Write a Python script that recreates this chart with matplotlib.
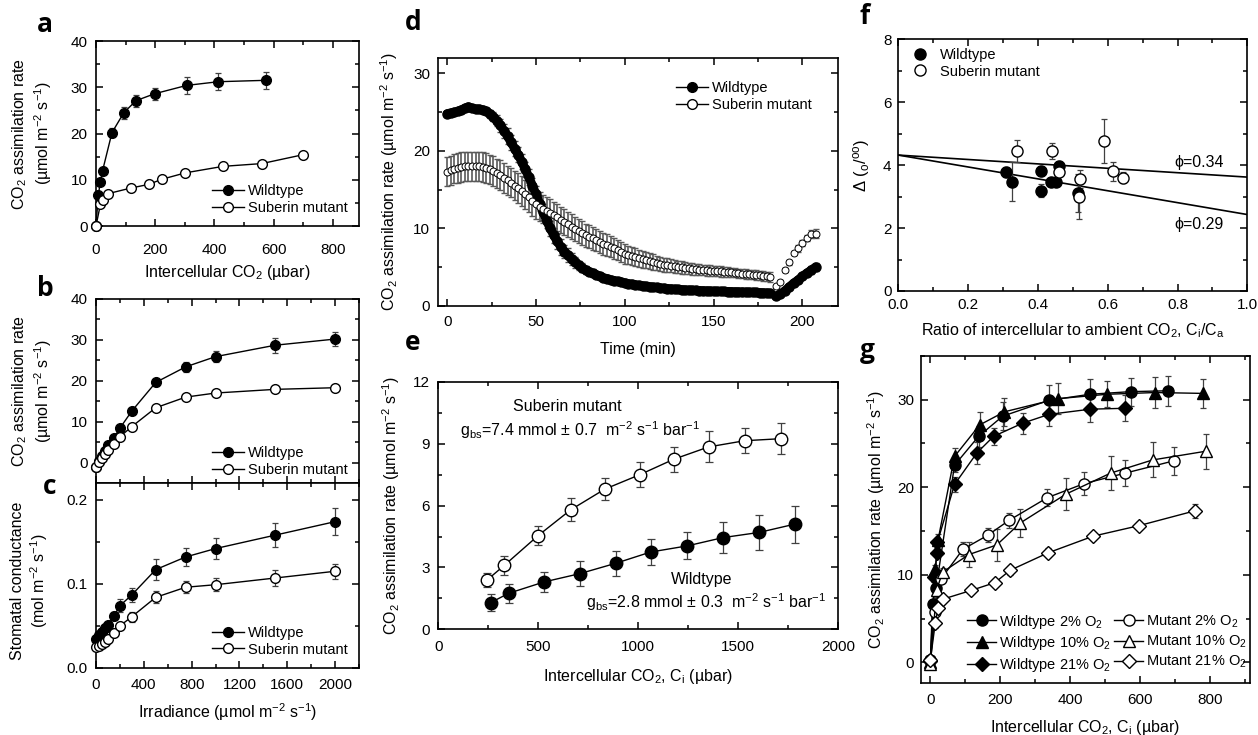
import matplotlib.pyplot as plt
import numpy as np
from matplotlib.ticker import MultipleLocator, FormatStrFormatter

plt.rcParams['font.family'] = ['Liberation Sans', 'DejaVu Sans']
plt.rcParams['mathtext.fontset'] = 'custom'
plt.rcParams['mathtext.rm'] = 'Liberation Sans'
plt.rcParams['mathtext.it'] = 'Liberation Sans:italic'
plt.rcParams['mathtext.bf'] = 'Liberation Sans:bold'
plt.rcParams['font.size'] = 10
plt.rcParams['axes.linewidth'] = 1.2

# ---- panel a: A/Ci ----
a_ci_wt = [0, 8, 15, 22, 54, 94, 135, 198, 306, 413, 573]
a_a_wt = [0, 6.8, 9.6, 11.9, 20.2, 24.5, 27.1, 28.6, 30.4, 31.2, 31.5]
a_err_wt = [0.2, 0.4, 0.5, 0.6, 1.0, 1.3, 1.3, 1.3, 1.9, 1.8, 1.9]
a_ci_mut = [0, 15, 22, 41, 117, 178, 222, 302, 429, 560, 698]
a_a_mut = [0, 4.7, 5.6, 7.0, 8.2, 9.0, 10.1, 11.5, 12.9, 13.5, 15.4]
a_err_mut = [0.3, 0.6, 0.6, 0.6, 0.5, 0.5, 0.5, 0.6, 0.5, 0.4, 0.3]

# ---- panels b, c: light response ----
irr = [0, 25, 50, 75, 100, 150, 200, 300, 500, 750, 1000, 1500, 2000]
b_wt = [-1.0, 0.3, 1.5, 2.8, 4.2, 6.1, 8.4, 12.6, 19.6, 23.4, 25.9, 28.7, 30.2]
b_wt_err = [0.3, 0.3, 0.3, 0.4, 0.4, 0.5, 0.6, 0.7, 0.8, 1.2, 1.4, 1.8, 1.8]
b_mut = [-1.0, 0.1, 1.1, 2.1, 3.1, 4.6, 6.3, 8.8, 13.4, 16.0, 17.0, 17.9, 18.3]
b_mut_err = [0.3, 0.3, 0.3, 0.3, 0.4, 0.4, 0.5, 0.5, 0.5, 0.5, 0.5, 0.6, 0.6]
c_wt = [0.035, 0.039, 0.043, 0.047, 0.051, 0.062, 0.074, 0.087, 0.117, 0.132, 0.142, 0.158, 0.174]
c_wt_err = [0.003, 0.003, 0.003, 0.004, 0.004, 0.005, 0.008, 0.008, 0.012, 0.011, 0.012, 0.014, 0.016]
c_mut = [0.025, 0.026, 0.028, 0.031, 0.034, 0.042, 0.050, 0.061, 0.084, 0.096, 0.099, 0.107, 0.115]
c_mut_err = [0.003, 0.003, 0.003, 0.003, 0.003, 0.004, 0.004, 0.006, 0.007, 0.007, 0.008, 0.009, 0.009]

# ---- panel d: time course (2 min sampling, then recovery) ----
d_t = np.arange(0, 184, 2)
d_wt = [24.8, 24.9, 25.0, 25.1, 25.3, 25.5, 25.7, 25.5, 25.4, 25.4,
        25.3, 25.1, 24.8, 24.4, 23.9, 23.3, 22.6, 21.9, 21.1, 20.3,
        19.5, 18.6, 17.6, 16.6, 15.5, 14.4, 13.2, 12.1, 11.0, 10.0,
        9.1, 8.3, 7.6, 7.0, 6.5, 6.0, 5.6, 5.2, 4.9, 4.6,
        4.4, 4.2, 4.0, 3.8, 3.6, 3.5, 3.35, 3.25, 3.15, 3.05,
        2.95, 2.85, 2.78, 2.7, 2.63, 2.57, 2.5, 2.45, 2.4, 2.35,
        2.3, 2.26, 2.22, 2.18, 2.14, 2.1, 2.07, 2.04, 2.02, 2.0,
        1.98, 1.96, 1.94, 1.92, 1.9, 1.88, 1.86, 1.85, 1.84, 1.83,
        1.82, 1.8, 1.79, 1.78, 1.76, 1.75, 1.73, 1.71, 1.69, 1.67,
        1.65, 1.6]
d_wt_err = [0.3, 0.3, 0.3, 0.3, 0.3, 0.3, 0.3, 0.3, 0.3, 0.3,
            0.3, 0.4, 0.5, 0.6, 0.7, 0.8, 0.9, 1.0, 1.0, 1.0,
            1.0, 1.0, 1.0, 1.0, 1.0, 1.0, 1.0, 1.0, 1.0, 1.0,
            1.0, 1.0, 1.0, 0.9, 0.9, 0.8, 0.7, 0.6, 0.6, 0.5,
            0.5, 0.5, 0.4, 0.4, 0.4, 0.4, 0.35, 0.35, 0.3, 0.3,
            0.3, 0.3, 0.3, 0.3, 0.3, 0.3, 0.3, 0.3, 0.3, 0.3,
            0.25, 0.25, 0.25, 0.25, 0.25, 0.25, 0.25, 0.25, 0.25, 0.25,
            0.25, 0.25, 0.25, 0.25, 0.25, 0.25, 0.25, 0.25, 0.25, 0.25,
            0.25, 0.25, 0.25, 0.25, 0.25, 0.25, 0.25, 0.25, 0.25, 0.25,
            0.25, 0.25]
d_mut = [17.3, 17.5, 17.7, 17.8, 17.9, 18.0, 18.0, 18.0, 18.0, 18.0,
         17.9, 17.8, 17.6, 17.4, 17.1, 16.9, 16.5, 16.2, 15.9, 15.5,
         15.2, 14.8, 14.4, 14.0, 13.5, 13.1, 12.8, 12.5, 12.2, 12.0,
         11.7, 11.4, 11.1, 10.8, 10.5, 10.2, 9.9, 9.6, 9.4, 9.1,
         8.9, 8.7, 8.5, 8.2, 8.0, 7.8, 7.6, 7.4, 7.2, 6.9,
         6.7, 6.55, 6.4, 6.25, 6.1, 6.0, 5.9, 5.75, 5.65, 5.5,
         5.4, 5.3, 5.22, 5.15, 5.07, 5.0, 4.94, 4.88, 4.82, 4.76,
         4.7, 4.66, 4.62, 4.58, 4.54, 4.5, 4.46, 4.42, 4.38, 4.34,
         4.3, 4.25, 4.2, 4.15, 4.1, 4.05, 4.0, 3.95, 3.9, 3.85,
         3.8, 3.7]
d_mut_err = [1.9, 1.9, 1.9, 1.9, 1.9, 1.9, 1.9, 1.9, 1.9, 1.9,
             1.9, 1.9, 1.9, 1.9, 1.9, 1.9, 1.9, 1.9, 1.9, 1.9,
             1.9, 1.9, 1.9, 1.9, 1.9, 1.9, 1.85, 1.8, 1.8, 1.75,
             1.75, 1.7, 1.7, 1.65, 1.65, 1.6, 1.6, 1.55, 1.55, 1.5,
             1.5, 1.5, 1.45, 1.45, 1.4, 1.4, 1.35, 1.35, 1.3, 1.3,
             1.25, 1.2, 1.2, 1.15, 1.1, 1.1, 1.05, 1.0, 1.0, 0.95,
             0.95, 0.9, 0.9, 0.85, 0.85, 0.8, 0.8, 0.8, 0.75, 0.75,
             0.75, 0.7, 0.7, 0.7, 0.7, 0.65, 0.65, 0.65, 0.65, 0.6,
             0.6, 0.6, 0.6, 0.6, 0.6, 0.6, 0.6, 0.6, 0.6, 0.6,
             0.6, 0.6]
d_t2 = [185, 187.5, 190, 192.5, 195, 197.5, 200, 202.5, 205, 207.5]
d_wt2 = [1.2, 1.5, 1.9, 2.4, 2.9, 3.3, 3.8, 4.2, 4.6, 5.0]
d_wt2_err = [0.2, 0.2, 0.2, 0.3, 0.3, 0.3, 0.4, 0.4, 0.5, 0.5]
d_mut2 = [2.5, 3.1, 4.6, 5.6, 6.8, 7.4, 8.1, 8.7, 9.3, 9.3]
d_mut2_err = [0.2, 0.2, 0.3, 0.3, 0.3, 0.4, 0.4, 0.4, 0.5, 0.6]

# ---- panel e: low O2 A/Ci ----
e_ci_mut = [245, 330, 500, 663, 833, 1008, 1178, 1353, 1533, 1717]
e_a_mut = [2.4, 3.1, 4.55, 5.8, 6.8, 7.5, 8.25, 8.85, 9.15, 9.25]
e_err_mut = [0.35, 0.45, 0.45, 0.55, 0.55, 0.6, 0.6, 0.75, 0.6, 0.75]
e_ci_wt = [263, 353, 530, 708, 887, 1063, 1247, 1425, 1605, 1783]
e_a_wt = [1.3, 1.75, 2.3, 2.7, 3.2, 3.75, 4.05, 4.45, 4.7, 5.1]
e_err_wt = [0.4, 0.45, 0.5, 0.6, 0.6, 0.65, 0.65, 0.75, 0.85, 0.9]

# ---- panel f: discrimination vs Ci/Ca ----
f_x_wt = [0.308, 0.327, 0.408, 0.408, 0.437, 0.451, 0.461, 0.514]
f_y_wt = [3.78, 3.47, 3.82, 3.19, 3.47, 3.47, 3.97, 3.12]
f_err_wt = [0.15, 0.62, 0.15, 0.2, 0.12, 0.12, 0.15, 0.6]
f_x_mut = [0.339, 0.439, 0.461, 0.521, 0.519, 0.589, 0.614, 0.643]
f_y_mut = [4.46, 4.46, 3.79, 3.56, 2.98, 4.76, 3.81, 3.60]
f_err_mut = [0.35, 0.25, 0.15, 0.3, 0.7, 0.7, 0.3, 0.18]
f_line_x = [0.0, 1.0]
f_phi34 = [4.32, 3.62]
f_phi29 = [4.32, 2.43]

# ---- panel g: A/Ci at three O2 levels ----
g_x_wt2 = [0, 6, 15, 22, 69, 138, 207, 339, 456, 573, 679]
g_y_wt2 = [0.3, 6.6, 8.5, 10.0, 22.5, 25.8, 28.1, 29.9, 30.6, 30.9, 31.0]
g_e_wt2 = [0.3, 0.5, 0.5, 0.5, 0.8, 1.2, 1.6, 1.8, 1.7, 1.6, 1.7]
g_x_wt10 = [0, 14, 22, 69, 141, 212, 365, 506, 644, 781]
g_y_wt10 = [0.0, 10.6, 14.0, 23.5, 27.1, 28.6, 30.1, 30.6, 30.8, 30.7]
g_e_wt10 = [0.3, 0.5, 0.6, 1.0, 1.5, 1.6, 1.8, 1.5, 1.8, 1.7]
g_x_wt21 = [0, 11, 19, 20, 69, 133, 181, 264, 339, 458, 557]
g_y_wt21 = [0.2, 9.7, 12.5, 13.7, 20.3, 23.9, 25.8, 27.3, 28.3, 28.9, 29.0]
g_e_wt21 = [0.3, 0.5, 0.5, 0.5, 0.8, 1.3, 1.0, 1.2, 1.3, 1.5, 1.5]
g_x_m2 = [0, 12, 30, 93, 164, 225, 335, 440, 558, 697]
g_y_m2 = [0.3, 5.7, 9.5, 12.9, 14.5, 16.2, 18.8, 20.4, 21.6, 23.0]
g_e_m2 = [0.3, 0.4, 0.5, 0.8, 0.8, 0.9, 1.0, 1.3, 1.5, 1.6]
g_x_m10 = [0, 18, 35, 110, 190, 257, 388, 516, 636, 789]
g_y_m10 = [-0.2, 8.3, 10.3, 12.3, 13.4, 15.9, 19.2, 21.6, 23.1, 24.1]
g_e_m10 = [0.3, 0.5, 0.5, 1.4, 1.8, 1.6, 1.8, 1.9, 2.0, 2.0]
g_x_m21 = [0, 14, 22, 35, 116, 185, 228, 337, 466, 597, 758]
g_y_m21 = [0.3, 4.5, 6.2, 7.2, 8.2, 9.1, 10.5, 12.5, 14.4, 15.6, 17.3]
g_e_m21 = [0.3, 0.6, 0.4, 0.4, 0.3, 0.3, 0.5, 0.5, 0.4, 0.4, 0.8]

A_LABEL = 'CO$_2$ assimilation rate (µmol m$^{-2}$ s$^{-1}$)'
A_LABEL2 = 'CO$_2$ assimilation rate\n(µmol m$^{-2}$ s$^{-1}$)'


def style(ax, xmaj, xmin, ymaj, ymin, xpad=7, ypad=6):
    ax.xaxis.set_major_locator(MultipleLocator(xmaj))
    ax.xaxis.set_minor_locator(MultipleLocator(xmin))
    ax.yaxis.set_major_locator(MultipleLocator(ymaj))
    ax.yaxis.set_minor_locator(MultipleLocator(ymin))
    ax.tick_params(which='both', direction='in', top=True, right=True, width=1.1, labelsize=11)
    ax.tick_params(which='major', length=5)
    ax.tick_params(which='minor', length=3)
    ax.tick_params(axis='x', pad=xpad)
    ax.tick_params(axis='y', pad=ypad)


def series(ax, x, y, err, marker='o', filled=True, ms=7, label=None, cap=2.5, clip=True):
    ax.errorbar(x, y, yerr=err, fmt='none', ecolor='0.25', elinewidth=0.9,
                capsize=cap, capthick=0.9, zorder=2, clip_on=clip)
    ln, = ax.plot(x, y, '-', marker=marker, color='black', lw=1.0, ms=ms,
                  mfc='black' if filled else 'white', mec='black', mew=1.0,
                  zorder=3, label=label, clip_on=clip)
    return ln


def legend(ax, **kw):
    opts = dict(frameon=False, fontsize=10.5, handlelength=2.2, handletextpad=0.3,
                labelspacing=0.2, borderpad=0.2, borderaxespad=0.2)
    opts.update(kw)
    return ax.legend(**opts)


fig = plt.figure(figsize=(12.58, 7.35), dpi=100)

# panel a
ax = fig.add_axes([0.0763, 0.6925, 0.2091, 0.2517])
series(ax, a_ci_wt, a_a_wt, a_err_wt, ms=7, label='Wildtype', clip=False)
series(ax, a_ci_mut, a_a_mut, a_err_mut, filled=False, ms=7, label='Suberin mutant', clip=False)
ax.set_xlim(0, 888)
ax.set_ylim(0, 40)
style(ax, 200, 100, 10, 5, xpad=12)
ax.set_xlabel('Intercellular CO$_2$ (µbar)', fontsize=11.5)
ax.xaxis.set_label_coords(0.5, -0.2)
ax.set_ylabel(A_LABEL2, fontsize=11.5)
ax.yaxis.set_label_coords(-0.16, 0.5)
legend(ax, loc='lower right', bbox_to_anchor=(0.98, 0.03))

# panel b
ax = fig.add_axes([0.0763, 0.3429, 0.2091, 0.2503])
series(ax, irr, b_wt, b_wt_err, ms=7, label='Wildtype', clip=False)
series(ax, irr, b_mut, b_mut_err, filled=False, ms=7, label='Suberin mutant', clip=False)
ax.set_xlim(0, 2200)
ax.set_ylim(-5, 40)
style(ax, 400, 200, 10, 5)
ax.tick_params(axis='x', labelbottom=False)
ax.set_ylabel(A_LABEL2, fontsize=11.5)
ax.yaxis.set_label_coords(-0.16, 0.5)
legend(ax, loc='lower right', bbox_to_anchor=(0.98, 0.0))

# panel c
ax = fig.add_axes([0.0763, 0.0912, 0.2091, 0.2517])
series(ax, irr, c_wt, c_wt_err, ms=7, label='Wildtype', clip=False)
series(ax, irr, c_mut, c_mut_err, filled=False, ms=7, label='Suberin mutant', clip=False)
ax.set_xlim(0, 2200)
ax.set_ylim(0, 0.22)
style(ax, 400, 200, 0.1, 0.05)
ax.yaxis.set_major_formatter(FormatStrFormatter('%.1f'))
ax.set_xlabel('Irradiance (µmol m$^{-2}$ s$^{-1}$)', fontsize=11.5)
ax.xaxis.set_label_coords(0.5, -0.18)
ax.set_ylabel('Stomatal conductance\n(mol m$^{-2}$ s$^{-1}$)', fontsize=11.5)
ax.yaxis.set_label_coords(-0.175, 0.47)
legend(ax, loc='lower right', bbox_to_anchor=(0.98, 0.03))

# panel d
ax = fig.add_axes([0.3484, 0.5841, 0.3177, 0.3370])
for t, y, e in [(d_t, d_mut, d_mut_err), (d_t2, d_mut2, d_mut2_err)]:
    ax.errorbar(t, y, yerr=e, fmt='none', ecolor='0.35', elinewidth=1.2,
                capsize=2.0, capthick=1.0, zorder=2)
for t, y, e in [(d_t, d_wt, d_wt_err), (d_t2, d_wt2, d_wt2_err)]:
    ax.errorbar(t, y, yerr=e, fmt='none', ecolor='0.3', elinewidth=1.0,
                capsize=2.0, capthick=1.0, zorder=3)
    ax.plot(t, y, '-', color='black', lw=6.5, solid_capstyle='round', zorder=4)
    ax.plot(t, y, 'o', color='black', ms=6.5, zorder=4)
for t, y in [(d_t, d_mut), (d_t2, d_mut2)]:
    ax.plot(t, y, 'o', mfc='white', mec='black', mew=0.7, ms=5, zorder=5)
ax.plot([], [], '-o', color='black', lw=1.0, ms=7, label='Wildtype')
ax.plot([], [], '-o', color='black', mfc='white', lw=1.0, ms=7, label='Suberin mutant')
ax.set_xlim(-5, 220)
ax.set_ylim(0, 32)
style(ax, 50, 25, 10, 5)
ax.set_xlabel('Time (min)', fontsize=11.5)
ax.xaxis.set_label_coords(0.5, -0.145)
ax.set_ylabel(A_LABEL, fontsize=11.5)
ax.yaxis.set_label_coords(-0.095, 0.5)
legend(ax, loc='upper right', bbox_to_anchor=(0.95, 0.93))

# panel e
ax = fig.add_axes([0.3484, 0.1438, 0.3177, 0.3365])
series(ax, e_ci_mut, e_a_mut, e_err_mut, filled=False, ms=9, cap=3)
series(ax, e_ci_wt, e_a_wt, e_err_wt, ms=9, cap=3)
ax.set_xlim(0, 2000)
ax.set_ylim(0, 12)
style(ax, 500, 250, 3, 1.5, xpad=8)
ax.set_xlabel('Intercellular CO$_2$, C$_\\mathrm{i}$ (µbar)', fontsize=11.5)
ax.xaxis.set_label_coords(0.5, -0.151)
ax.set_ylabel(A_LABEL, fontsize=11.5)
ax.yaxis.set_label_coords(-0.09, 0.5)
ax.text(645, 10.8, 'Suberin mutant', ha='center', va='center', fontsize=11.5)
ax.text(108, 9.67, 'g$_\\mathrm{bs}$=7.4 mmol ± 0.7  m$^{-2}$ s$^{-1}$ bar$^{-1}$',
        ha='left', va='center', fontsize=11.5)
ax.text(1320, 2.4, 'Wildtype', ha='center', va='center', fontsize=11.5)
ax.text(741, 1.33, 'g$_\\mathrm{bs}$=2.8 mmol ± 0.3  m$^{-2}$ s$^{-1}$ bar$^{-1}$',
        ha='left', va='center', fontsize=11.5)

# panel f
ax = fig.add_axes([0.7141, 0.6041, 0.2774, 0.3424])
ax.plot(f_line_x, f_phi34, color='black', lw=1.2, zorder=1)
ax.plot(f_line_x, f_phi29, color='black', lw=1.2, zorder=1)
ax.errorbar(f_x_wt, f_y_wt, yerr=f_err_wt, fmt='none', ecolor='0.25', elinewidth=0.9,
            capsize=2.5, capthick=0.9, zorder=2)
ax.errorbar(f_x_mut, f_y_mut, yerr=f_err_mut, fmt='none', ecolor='0.25', elinewidth=0.9,
            capsize=2.5, capthick=0.9, zorder=2)
ax.plot(f_x_wt, f_y_wt, 'o', color='black', ms=8, zorder=3, label='Wildtype')
ax.plot(f_x_mut, f_y_mut, 'o', mfc='white', mec='black', mew=1.0, ms=8, zorder=4,
        label='Suberin mutant')
ax.text(0.79, 4.1, 'ϕ=0.34', fontsize=11.5, va='center')
ax.text(0.79, 2.1, 'ϕ=0.29', fontsize=11.5, va='center')
ax.set_xlim(0, 1.0)
ax.set_ylim(0, 8)
style(ax, 0.2, 0.1, 2, 1, xpad=5, ypad=5)
ax.xaxis.set_major_formatter(FormatStrFormatter('%.1f'))
ax.set_xlabel('Ratio of intercellular to ambient CO$_2$, C$_\\mathrm{i}$/C$_\\mathrm{a}$',
              fontsize=11.5)
ax.xaxis.set_label_coords(0.5, -0.122)
ax.set_ylabel('Δ ($_\\mathrm{o}$/$^\\mathrm{oo}$)', fontsize=12)
ax.yaxis.set_label_coords(-0.075, 0.5)
legend(ax, loc='upper left', bbox_to_anchor=(0.02, 0.99), handlelength=1.2,
       handletextpad=0.8, numpoints=1)

# panel g
ax = fig.add_axes([0.7321, 0.0703, 0.2615, 0.4457])
h = []
h.append(series(ax, g_x_wt2, g_y_wt2, g_e_wt2, 'o', True, 8, 'Wildtype 2% O$_2$'))
h.append(series(ax, g_x_wt10, g_y_wt10, g_e_wt10, '^', True, 8.5, 'Wildtype 10% O$_2$'))
h.append(series(ax, g_x_wt21, g_y_wt21, g_e_wt21, 'D', True, 7, 'Wildtype 21% O$_2$'))
h.append(series(ax, g_x_m2, g_y_m2, g_e_m2, 'o', False, 8, 'Mutant 2% O$_2$'))
h.append(series(ax, g_x_m10, g_y_m10, g_e_m10, '^', False, 9, 'Mutant 10% O$_2$'))
h.append(series(ax, g_x_m21, g_y_m21, g_e_m21, 'D', False, 7, 'Mutant 21% O$_2$'))
ax.set_xlim(-27, 915)
ax.set_ylim(-2.4, 35)
style(ax, 200, 100, 10, 5, xpad=7, ypad=5)
ax.set_xlabel('Intercellular CO$_2$, C$_\\mathrm{i}$ (µbar)', fontsize=11.5)
ax.xaxis.set_label_coords(0.5, -0.107)
ax.set_ylabel(A_LABEL, fontsize=11.5)
ax.yaxis.set_label_coords(-0.103, 0.5)
ax.legend(handles=h, ncol=2, loc='lower right', bbox_to_anchor=(1.0, 0.02), frameon=False,
          fontsize=10.5, handlelength=2.0, handletextpad=0.2, columnspacing=0.2,
          labelspacing=0.25, borderpad=0.1, borderaxespad=0.1)

# panel letters
for letter, x, y in [('a', 45, 25), ('b', 45, 288), ('c', 50, 487), ('d', 413, 22),
                     ('e', 413, 343), ('f', 865, 16), ('g', 867, 350)]:
    fig.text(x / 1258, 1 - y / 735, letter, fontsize=19, fontweight='bold',
             family='Open Sans', ha='center', va='center')

fig.savefig('out.png', dpi=100)
